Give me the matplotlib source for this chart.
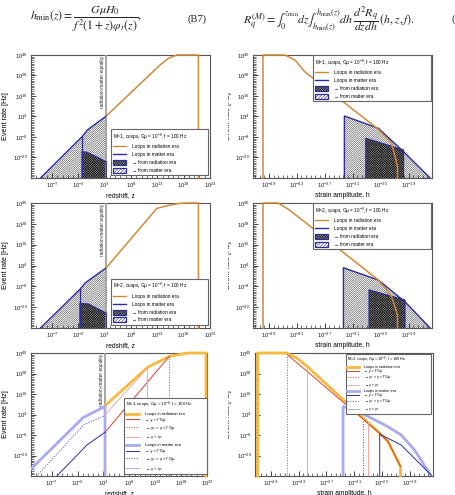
import numpy as np
import matplotlib
matplotlib.use('Agg')
import matplotlib.pyplot as plt
import matplotlib.ticker as mticker
from matplotlib.lines import Line2D
from matplotlib.patches import Patch
from matplotlib.legend_handler import HandlerTuple
from matplotlib.transforms import Bbox, TransformedBbox

plt.rcParams['font.family'] = ['Liberation Sans', 'DejaVu Sans']
plt.rcParams['mathtext.fontset'] = 'custom'
plt.rcParams['mathtext.rm'] = 'Liberation Sans'
plt.rcParams['mathtext.it'] = 'Liberation Sans:italic'
plt.rcParams['hatch.linewidth'] = 0.4

# ---------------- data (log10 values) ----------------
z_ticks = [-7, -2, 3, 8, 13, 18, 23]
h_ticks = [-49, -43, -37, -31, -25, -19]
y_ticks = [-20, -8, 4, 16, 28, 40]
z_lim = [-11, 23]
h_lim = [-52.4, -14.0]
y_lim = [-32, 40]
z_eq = 3.3

# M=1, redshift
m1z_mat_logz = [-9.2, -1.3, -0.3, 3.3]
m1z_mat_logR = [-32, -7.8, -3.9, 4.3]
m1z_radfrom_logz = [-1.3, -0.3, 3.3]
m1z_radfrom_logR = [-16.6, -17.0, -22.5]
m1z_rad_logz = [3.3, 13.5, 15.1, 16.7, 20.8, 20.8]
m1z_rad_logR = [4.3, 34.1, 38.1, 40, 40, -32]

# M=2, redshift
m2z_mat_logz = [-9.2, -1.7, -0.7, 3.3]
m2z_mat_logR = [-32, -9.7, -6.0, 2.7]
m2z_radfrom_logz = [-1.7, -0.1, 3.3]
m2z_radfrom_logR = [-17.8, -18.2, -23.5]
m2z_rad_logz = [3.3, 12.9, 15.5, 17.3, 18.6, 20.8, 20.8]
m2z_rad_logR = [2.7, 36.9, 38.9, 39.8, 40, 40, -32]

# M=1, strain
m1h_rad_logh = [-50.25, -50.25, -45.6, -43.4, -41.3, -25.5, -22.65, -21.4, -21.4]
m1h_rad_logR = [-32, 40, 40, 37.1, 30.2, -3.5, -11.7, -25.4, -32]
m1h_mat_logh = [-32.8, -32.8, -25.5, -20.1, -14.4]
m1h_mat_logR = [-32, 4.3, -2.9, -16.6, -32]
m1h_radfrom_logh = [-28.2, -28.2, -20.1, -20.1]
m1h_radfrom_logR = [-32, -8.8, -15.6, -32]

# M=2, strain
m2h_rad_logh = [-50.25, -50.25, -47.0, -44.9, -42.4, -25.5, -22.65, -21.4, -21.4]
m2h_rad_logR = [-32, 40, 40, 36.5, 31.4, -4.4, -14.0, -24.5, -32]
m2h_mat_logh = [-33.0, -33.0, -25.5, -19.8, -14.4]
m2h_mat_logR = [-32, 2.7, -4.4, -16.9, -32]
m2h_radfrom_logh = [-27.5, -27.5, -19.8, -19.8]
m2h_radfrom_logR = [-32, -10.1, -15.9, -32]

# M=3, redshift
m3z_rad_logz = [3.3, 11.5, 15.7, 19.3, 22.8, 22.8]
m3z_rad_logR = [9.1, 31.6, 38.0, 40, 40, -32]
m3z_rad_big_logz = [3.3, 15.7]
m3z_rad_big_logR = [-6.4, 38.0]
m3z_rad_mid_logz = [15.7, 15.7]
m3z_rad_mid_logR = [38.0, -32]
m3z_rad_small_logz = [3.3, 11.5, 11.5]
m3z_rad_small_logR = [3.8, 31.2, -32]
m3z_mat_logz = [-11, -0.96, 0.46, 3.3, 3.3]
m3z_mat_logR = [-27.9, 2.1, 4.4, 8.7, -32]
m3z_mat_big_logz = [-6.0, -0.18, 3.3]
m3z_mat_big_logR = [-32, -13.8, -6.4]
m3z_mat_mid_logz = [-9.9, -0.83, 3.3]
m3z_mat_mid_logR = [-32, -2.1, 3.4]
m3z_mat_small_logz = [-11, -0.96, 0.46, 3.3]
m3z_mat_small_logR = [-27.9, 2.1, 4.4, 8.7]

# M=3, strain
m3h_rad_logh = [-51.84, -51.84, -45.6, -43.4, -41.3, -25.5, -23.7, -21.0, -21.0]
m3h_rad_logR = [-32, 40, 40, 37.1, 32.5, -7.0, -11.8, -26.5, -32]
m3h_rad_big_logh = [-45.4, -25.5, -23.7, -21.0]
m3h_rad_big_logR = [39.0, -7.0, -11.8, -26.5]
m3h_rad_mid_logh = [-45.4, -45.4]
m3h_rad_mid_logR = [-32, 39.0]
m3h_rad_small_a_logh = [-41.15, -41.15]
m3h_rad_small_a_logR = [-32, 32.3]
m3h_rad_small_b_logh = [-28.1, -28.1]
m3h_rad_small_b_logR = [-32, -1.0]
m3h_mat_logh = [-33.4, -33.4, -30.9, -28.0, -24.4, -20.9, -18.0, -14.4]
m3h_mat_logR = [-32, 8.7, 6.7, 2.8, -2.1, -7.9, -16.7, -32]
m3h_mat_big_logh = [-25.5, -25.5, -20.9, -14.4]
m3h_mat_big_logR = [-32, -7.5, -13.8, -31.4]
m3h_mat_mid_logh = [-29.0, -29.0]
m3h_mat_mid_logR = [-32, 0.9]
m3h_mat_small_logh = [-33.4, -33.4, -30.9, -28.0]
m3h_mat_small_logR = [-32, 8.7, 6.7, 2.8]

# ---------------- style ----------------
ORANGE = '#cf8a3a'
BLUE = '#2c2c9c'
T_OR = '#f7b940'
RED = '#d8402e'
PINK = '#f0aaa2'
LBLUE = '#aaaaee'
DBLUE = '#2c2ca4'
MBLUE = '#4040b4'
HATCH_M = '/' * 16
HATCH_R = 'x' * 14

W, H = 456, 495
fig = plt.figure(figsize=(W / 100, H / 100), dpi=100)


def px_axes(l, t, r, b):
    return fig.add_axes([l / W, 1 - b / H, (r - l) / W, (b - t) / H])


def P(a):
    return np.power(10.0, np.asarray(a, dtype=float))


def style(ax, xlim, xt, xlabel):
    ax.set_xscale('log')
    ax.set_yscale('log')
    ax.set_xlim(P(xlim[0]), P(xlim[1]))
    ax.set_ylim(P(y_lim[0]), P(y_lim[1]))
    ax.xaxis.set_major_locator(mticker.FixedLocator(P(xt)))
    ax.xaxis.set_major_formatter(mticker.FixedFormatter([f'$10^{{{t}}}$' for t in xt]))
    ax.yaxis.set_major_locator(mticker.FixedLocator(P(y_ticks)))
    ax.yaxis.set_major_formatter(mticker.FixedFormatter([f'$10^{{{t}}}$' for t in y_ticks]))
    ax.xaxis.set_minor_locator(mticker.FixedLocator(P(range(int(np.ceil(xlim[0])), int(np.floor(xlim[1])) + 1))))
    ax.yaxis.set_minor_locator(mticker.FixedLocator(P(range(y_lim[0], y_lim[1] + 1))))
    ax.xaxis.set_minor_formatter(mticker.NullFormatter())
    ax.yaxis.set_minor_formatter(mticker.NullFormatter())
    ax.tick_params(which='both', direction='in', top=False, right=False,
                   labelsize=4.2, pad=2, colors='#222')
    ax.tick_params(which='major', length=3.5, width=0.6)
    ax.tick_params(which='minor', length=2.3, width=0.45)
    for s in ax.spines.values():
        s.set_color('#555')
        s.set_linewidth(0.8)
    ax.set_xlabel(xlabel, fontsize=4.8, labelpad=1.5)


def ylabel_left(ax):
    ax.set_ylabel('Event rate [Hz]', fontsize=5.2, labelpad=3)


def ylabel_clipped(ax):
    pos = ax.get_position()
    yc = (pos.y0 + pos.y1) / 2
    t = fig.text(228.5 / W, yc, 'Event rate [Hz]', rotation=90, fontsize=5.2,
                 ha='center', va='center', color='#222')
    t.set_clip_box(TransformedBbox(Bbox([[228.5 / W, 0], [1, 1]]), fig.transFigure))
    t.set_clip_on(True)


def hatched_regions(ax, mx, my, rx, ry):
    ax.fill_between(P(mx), P(y_lim[0]), P(my), facecolor='white', edgecolor='#555',
                    hatch=HATCH_M, lw=0, zorder=1)
    ax.fill_between(P(rx), P(y_lim[0]), P(ry), facecolor='#8c8c8c', edgecolor='#1a1a1a',
                    hatch=HATCH_R, lw=0, zorder=2)


def hatch_handle(hatch, face):
    return (Patch(facecolor=face, edgecolor='#333', hatch=hatch, lw=0),
            Patch(facecolor='none', edgecolor=BLUE, lw=0.9))


def legend12(ax, title, x0, ytop, w):
    handles = [Line2D([], [], color=ORANGE, lw=1.0),
               Line2D([], [], color=BLUE, lw=1.0),
               hatch_handle(HATCH_R, '#8c8c8c'),
               hatch_handle('/' * 10, 'white')]
    labels = ['Loops in radiation era', 'Loops in matter era',
              '→ from radiation era', '→ from matter era']
    leg = ax.legend(handles, labels, loc='upper left', bbox_to_anchor=(x0, ytop, w, 0),
                    mode='expand', fontsize=3.4, title=title, title_fontsize=3.4,
                    alignment='left', frameon=True, fancybox=False, edgecolor='#666',
                    framealpha=1, borderaxespad=0, handlelength=2.8, handleheight=1.3,
                    labelspacing=0.55, borderpad=0.45, handletextpad=1.2,
                    handler_map={tuple: HandlerTuple(ndivide=1, pad=0)})
    leg.get_frame().set_linewidth(0.8)
    leg.set_zorder(10)


def eq_line(ax):
    ax.axvline(P(z_eq), color='#a0a0a0', lw=1.3, zorder=3)
    ax.text(P(z_eq - 0.25), P(39.3), 'radiation-matter equality', rotation=90,
            ha='right', va='top', fontsize=3.4, color='#222', zorder=4)


TITLE1 = r'M=1, cusps, Gμ = 10$^{-8}$, f = 100 Hz'
TITLE2 = r'M=2, cusps, Gμ = 10$^{-8}$, f = 100 Hz'
TITLE3 = r'M=3, cusps, Gμ = 10$^{-8}$, f = 100 Hz'

# ---------------- top formulas ----------------
fig.text(30 / W, 1 - 19 / H, r'$h_{\min}(z) = \dfrac{G\mu H_0}{f^2(1+z)\varphi_r(z)},$',
         fontsize=8.6, ha='left', va='center', math_fontfamily='stix', color='#222')
fig.text(188 / W, 1 - 19 / H, '(B7)', fontsize=7.6, ha='left', va='center',
         family='Liberation Serif', color='#222')
fig.text(243 / W, 1 - 19 / H,
         r'$R_q^{(M)} = \int_0^{z_{\min}} dz \int_{h_{\min}(z)}^{h_{\max}(z)} dh\,'
         r'\dfrac{d^2R_q}{dzdh}\,(h,z,f).$',
         fontsize=8.6, ha='left', va='center', math_fontfamily='stix', color='#222')
fig.text(452 / W, 1 - 19 / H, '(', fontsize=7.6, ha='left', va='center',
         family='Liberation Serif', color='#222')

# ---------------- panel TL: M=1 redshift ----------------
ax = px_axes(31, 55, 210, 178)
style(ax, z_lim, z_ticks, 'redshift, z')
ylabel_left(ax)
hatched_regions(ax, m1z_mat_logz, m1z_mat_logR, m1z_radfrom_logz, m1z_radfrom_logR)
ax.plot(P(m1z_mat_logz), P(m1z_mat_logR), color=BLUE, lw=1.0, zorder=5)
ax.plot(P([m1z_radfrom_logz[0]] + m1z_radfrom_logz + [m1z_radfrom_logz[-1]]),
        P([y_lim[0]] + m1z_radfrom_logR + [y_lim[0]]), color=BLUE, lw=0.9, zorder=5)
ax.plot(P([m1z_mat_logz[1], m1z_mat_logz[1]]), P([y_lim[0], m1z_mat_logR[1]]), color=BLUE, lw=0.9, zorder=5)
eq_line(ax)
ax.plot(P(m1z_rad_logz), P(m1z_rad_logR), color=ORANGE, lw=1.1, zorder=6, clip_on=False)
legend12(ax, TITLE1, 0.447, 0.396, 0.543)

# ---------------- panel TR: M=1 strain ----------------
ax = px_axes(253, 55, 432, 178)
style(ax, h_lim, h_ticks, 'strain amplitude, h')
ylabel_clipped(ax)
hatched_regions(ax, m1h_mat_logh, m1h_mat_logR, m1h_radfrom_logh, m1h_radfrom_logR)
ax.plot(P(m1h_mat_logh), P(m1h_mat_logR), color=BLUE, lw=1.0, zorder=5)
ax.plot(P(m1h_radfrom_logh), P(m1h_radfrom_logR), color=BLUE, lw=0.9, zorder=5)
ax.plot(P(m1h_rad_logh), P(m1h_rad_logR), color=ORANGE, lw=1.1, zorder=6, clip_on=False)
legend12(ax, TITLE1, 0.335, 0.998, 0.659)

# ---------------- panel ML: M=2 redshift ----------------
ax = px_axes(31, 203, 210, 328)
style(ax, z_lim, z_ticks, 'redshift, z')
ylabel_left(ax)
hatched_regions(ax, m2z_mat_logz, m2z_mat_logR, m2z_radfrom_logz, m2z_radfrom_logR)
ax.plot(P(m2z_mat_logz), P(m2z_mat_logR), color=BLUE, lw=1.0, zorder=5)
ax.plot(P([m2z_radfrom_logz[0]] + m2z_radfrom_logz + [m2z_radfrom_logz[-1]]),
        P([y_lim[0]] + m2z_radfrom_logR + [y_lim[0]]), color=BLUE, lw=0.9, zorder=5)
ax.plot(P([m2z_mat_logz[1], m2z_mat_logz[1]]), P([y_lim[0], m2z_mat_logR[1]]), color=BLUE, lw=0.9, zorder=5)
eq_line(ax)
ax.plot(P(m2z_rad_logz), P(m2z_rad_logR), color=ORANGE, lw=1.1, zorder=6, clip_on=False)
legend12(ax, TITLE2, 0.447, 0.392, 0.543)

# ---------------- panel MR: M=2 strain ----------------
ax = px_axes(253, 203, 432, 328)
style(ax, h_lim, h_ticks, 'strain amplitude, h')
ylabel_clipped(ax)
hatched_regions(ax, m2h_mat_logh, m2h_mat_logR, m2h_radfrom_logh, m2h_radfrom_logR)
ax.plot(P(m2h_mat_logh), P(m2h_mat_logR), color=BLUE, lw=1.0, zorder=5)
ax.plot(P(m2h_radfrom_logh), P(m2h_radfrom_logR), color=BLUE, lw=0.9, zorder=5)
ax.plot(P(m2h_rad_logh), P(m2h_rad_logR), color=ORANGE, lw=1.1, zorder=6, clip_on=False)
legend12(ax, TITLE2, 0.335, 0.998, 0.659)


# ---------------- bottom legends ----------------
def legend3(ax, x0, ytop, w, fs, spacing, bpad):
    handles = [Line2D([], [], color=T_OR, lw=2.0),
               Line2D([], [], color=RED, lw=0.7),
               Line2D([], [], color=RED, lw=0.7, ls=':'),
               Line2D([], [], color=PINK, lw=0.7),
               Line2D([], [], color=LBLUE, lw=2.0),
               Line2D([], [], color=DBLUE, lw=0.7),
               Line2D([], [], color=MBLUE, lw=0.7, ls=':'),
               Line2D([], [], color=LBLUE, lw=0.7)]
    labels = ['Loops in radiation era',
              '→ γ > ΓGμ',
              '→ γ$_c$ < γ < ΓGμ',
              '→ γ < γ$_c$',
              'Loops in matter era',
              '→ γ > ΓGμ',
              '→ γ$_c$ < γ < ΓGμ',
              '→ γ < γ$_c$']
    leg = ax.legend(handles, labels, loc='upper left', bbox_to_anchor=(x0, ytop, w, 0),
                    mode='expand', fontsize=fs, title=TITLE3, title_fontsize=fs,
                    alignment='left', frameon=True, fancybox=False, edgecolor='#666',
                    framealpha=1, borderaxespad=0, handlelength=3.2, handleheight=0.5,
                    labelspacing=spacing, borderpad=bpad, handletextpad=1.2)
    leg.get_frame().set_linewidth(0.8)
    leg.set_zorder(10)


# ---------------- panel BL: M=3 redshift ----------------
ax = px_axes(31, 353, 207, 476)
style(ax, z_lim, z_ticks, 'redshift, z')
ylabel_left(ax)
eq_line(ax)
ax.plot(P(m3z_rad_logz), P(m3z_rad_logR), color=T_OR, lw=2.0, zorder=5, clip_on=False)
ax.plot(P(m3z_rad_big_logz), P(m3z_rad_big_logR), color=RED, lw=0.7, zorder=6)
ax.plot(P(m3z_rad_mid_logz), P(m3z_rad_mid_logR), color=RED, lw=0.7, ls=':', zorder=6)
ax.plot(P(m3z_rad_small_logz), P(m3z_rad_small_logR), color=PINK, lw=0.7, zorder=6)
ax.plot(P(m3z_mat_logz), P(m3z_mat_logR), color=LBLUE, lw=2.0, zorder=5)
ax.plot(P(m3z_mat_small_logz), P(m3z_mat_small_logR), color=LBLUE, lw=0.7, zorder=6)
ax.plot(P(m3z_mat_mid_logz), P(m3z_mat_mid_logR), color=MBLUE, lw=0.7, ls=':', zorder=6)
ax.plot(P(m3z_mat_big_logz), P(m3z_mat_big_logR), color=DBLUE, lw=0.7, zorder=6)
legend3(ax, 0.528, 0.633, 0.472, 3.1, 0.42, 0.4)

# ---------------- panel BR: M=3 strain ----------------
ax = px_axes(255, 353, 433, 476)
style(ax, h_lim, h_ticks, 'strain amplitude, h')
ylabel_clipped(ax)
ax.plot(P(m3h_rad_logh), P(m3h_rad_logR), color=T_OR, lw=2.0, zorder=5, clip_on=False)
ax.plot(P(m3h_rad_big_logh), P(m3h_rad_big_logR), color=RED, lw=0.7, zorder=6)
ax.plot(P(m3h_rad_mid_logh), P(m3h_rad_mid_logR), color=RED, lw=0.7, ls=':', zorder=6)
ax.plot(P(m3h_rad_small_a_logh), P(m3h_rad_small_a_logR), color=PINK, lw=0.7, zorder=6)
ax.plot(P(m3h_rad_small_b_logh), P(m3h_rad_small_b_logR), color=PINK, lw=0.7, zorder=6)
ax.plot(P(m3h_mat_logh), P(m3h_mat_logR), color=LBLUE, lw=2.0, zorder=5)
ax.plot(P(m3h_mat_small_logh), P(m3h_mat_small_logR), color=LBLUE, lw=0.7, zorder=6)
ax.plot(P(m3h_mat_mid_logh), P(m3h_mat_mid_logR), color=MBLUE, lw=0.7, ls=':', zorder=6)
ax.plot(P(m3h_mat_big_logh), P(m3h_mat_big_logR), color=DBLUE, lw=0.7, zorder=6)
legend3(ax, 0.514, 0.992, 0.476, 2.7, 0.0, 0.25)

fig.savefig('out.png', dpi=100)
